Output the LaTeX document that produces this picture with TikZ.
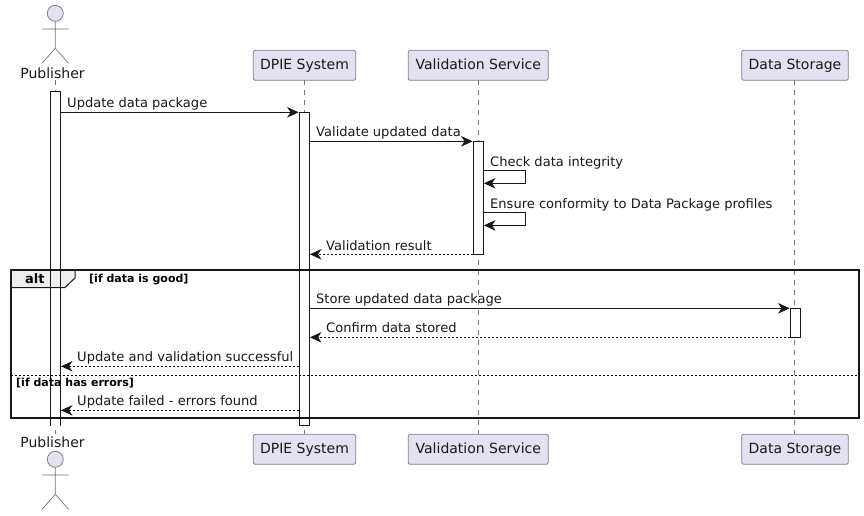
\documentclass[tikz,border=0pt]{standalone}
\usepackage{fontspec}
\setmainfont{DejaVu Sans}
\usetikzlibrary{arrows.meta}
\definecolor{pfill}{HTML}{E2E2F0}
\definecolor{pline}{HTML}{7F7F85}
\definecolor{lifeline}{HTML}{757575}
\definecolor{ink}{HTML}{181818}
\definecolor{tabfill}{HTML}{EEEEEE}
\tikzset{
  x=1pt,y=-1pt,
  part/.style={draw=pline,fill=pfill,rounded corners=2pt,line width=.8pt,minimum height=30pt,inner sep=0pt,font=\fontsize{14}{16}\selectfont,text=ink,text height=10pt,text depth=1.5pt},
  life/.style={draw=lifeline,line width=.7pt,dash pattern=on 5pt off 5pt},
  activ/.style={draw=ink,fill=white,line width=.8pt,minimum width=10pt,inner sep=0pt},
  msg/.style={draw=ink,line width=.8pt,-{Stealth[length=11.5pt,width=10.5pt,inset=3.5pt]}},
  ret/.style={msg,dash pattern=on 2pt off 2pt},
  lab/.style={font=\fontsize{13.05}{15}\selectfont,text=ink,inner sep=0pt,anchor=base west},
  guard/.style={font=\bfseries\fontsize{11}{13}\selectfont,text=black,inner sep=0pt,anchor=base west},
  actorline/.style={draw=lifeline,line width=.7pt},
  actorname/.style={font=\fontsize{14}{16}\selectfont,text=ink,inner sep=0pt,anchor=base},
}
\newcommand{\stick}[2]{%
  \draw[actorline,fill=pfill] (#1,#2) circle (8);
  \draw[actorline] (#1,#2+8) -- (#1,#2+35)
    (#1-13.3,#2+15.7) -- (#1+13.3,#2+15.7)
    (#1-13.3,#2+50) -- (#1,#2+35) -- (#1+13.3,#2+50);}
\begin{document}
\begin{tikzpicture}
\useasboundingbox (0,0) rectangle (864,515);
% lifelines
\coordinate (p1) at (55.3,80); \coordinate (p2) at (55.3,434);
\draw[life] (p1) -- (p2);
\node[part,minimum width=102.4pt] (dt) at (304.5,65.3) {DPIE System};
\node[part,minimum width=102.4pt] (db) at (304.5,449.3) {DPIE System};
\node[part,minimum width=140pt] (vt) at (478.3,65.3) {Validation Service};
\node[part,minimum width=140pt] (vb) at (478.3,449.3) {Validation Service};
\node[part,minimum width=106.6pt] (st) at (795,65.3) {Data Storage};
\node[part,minimum width=106.6pt] (sb) at (795,449.3) {Data Storage};
\draw[life] (304.3,80.3) -- (304.3,434.3);
\draw[life] (478.3,80.3) -- (478.3,434.3);
\draw[life] (794.3,80.3) -- (794.3,434.3);
% activations
\node[fill=white,minimum width=10pt,minimum height=334.4pt,inner sep=0pt] (ap) at (55.3,258.5) {};
\draw[draw=ink,line width=.8pt] (50.3,425.7) -- (50.3,91.3) -- (60.3,91.3) -- (60.3,425.7);
\node[activ,minimum height=313.4pt] (ad) at (304.3,269) {};
\node[activ,minimum height=113pt] (av) at (478.3,197.8) {};
\node[activ,minimum height=29pt] (as) at (795.3,322.8) {};
% actors
\stick{55.3}{13.3}
\stick{55.3}{459.3}
\node[actorname] (pt) at (52.5,78) {Publisher};
\node[actorname] (pb) at (52.5,447.4) {Publisher};
% messages
\coordinate (m1a) at (60.3,112.3); \coordinate (m1b) at (298.6,112.3);
\draw[msg] (m1a) -- (m1b);
\node[lab] (l1) at (67,107) {Update data package};
\coordinate (m2a) at (309.3,141.3); \coordinate (m2b) at (472.6,141.3);
\draw[msg] (m2a) -- (m2b);
\node[lab] (l2) at (316,136) {Validate updated data};
\coordinate (m3a) at (483.3,170.3); \coordinate (m3b) at (525.7,170.3); \coordinate (m3c) at (525.7,183.3); \coordinate (m3d) at (484,183.3);
\draw[msg] (m3a) -- (m3b) -- (m3c) -- (m3d);
\node[lab] (l3) at (490,166) {Check data integrity};
\coordinate (m4a) at (483.3,212.5); \coordinate (m4b) at (525.7,212.5); \coordinate (m4c) at (525.7,225.4); \coordinate (m4d) at (484,225.4);
\draw[msg] (m4a) -- (m4b) -- (m4c) -- (m4d);
\node[lab] (l4) at (490,208) {Ensure conformity to Data Package profiles};
\coordinate (m5a) at (473.3,254.3); \coordinate (m5b) at (310,254.3);
\draw[ret] (m5a) -- (m5b);
\node[lab] (l5) at (326,250) {Validation result};
% frame
\coordinate (f1) at (10.7,269.8); \coordinate (f2) at (858.5,418.3);
\draw[draw=ink,line width=1pt,fill=tabfill] (10.7,269.8) -- (75,269.8) -- (75,278) -- (65,287.5) -- (10.7,287.5) -- cycle;
\draw[draw=ink,line width=2pt] (f1) rectangle (f2);
\draw[draw=ink,line width=.8pt] (50.3,271) -- (50.3,425.7) (60.3,271) -- (60.3,425.7);
\node[font=\bfseries\fontsize{13}{15}\selectfont,text=black,inner sep=0pt,anchor=base west] (alt) at (25,283) {alt};
\node[guard] (g1) at (89,282) {[if data is good]};
\draw[black,line width=.8pt,dash pattern=on 2pt off 2pt] (10.7,375.3) -- (858.5,375.3);
\node[guard] (g2) at (16,386) {[if data has errors]};
% alt messages
\coordinate (m6a) at (309.3,308.3); \coordinate (m6b) at (789.6,308.3);
\draw[msg] (m6a) -- (m6b);
\node[lab] (l6) at (316,303) {Store updated data package};
\coordinate (m7a) at (790.3,337.3); \coordinate (m7b) at (310,337.3);
\draw[ret] (m7a) -- (m7b);
\node[lab] (l7) at (326,332) {Confirm data stored};
\coordinate (m8a) at (299.3,366.3); \coordinate (m8b) at (61,366.3);
\draw[ret] (m8a) -- (m8b);
\node[lab] (l8) at (77,361) {Update and validation successful};
\coordinate (m9a) at (299.3,410.3); \coordinate (m9b) at (61,410.3);
\draw[ret] (m9a) -- (m9b);
\node[lab] (l9) at (77,405) {Update failed - errors found};
\end{tikzpicture}
\end{document}
